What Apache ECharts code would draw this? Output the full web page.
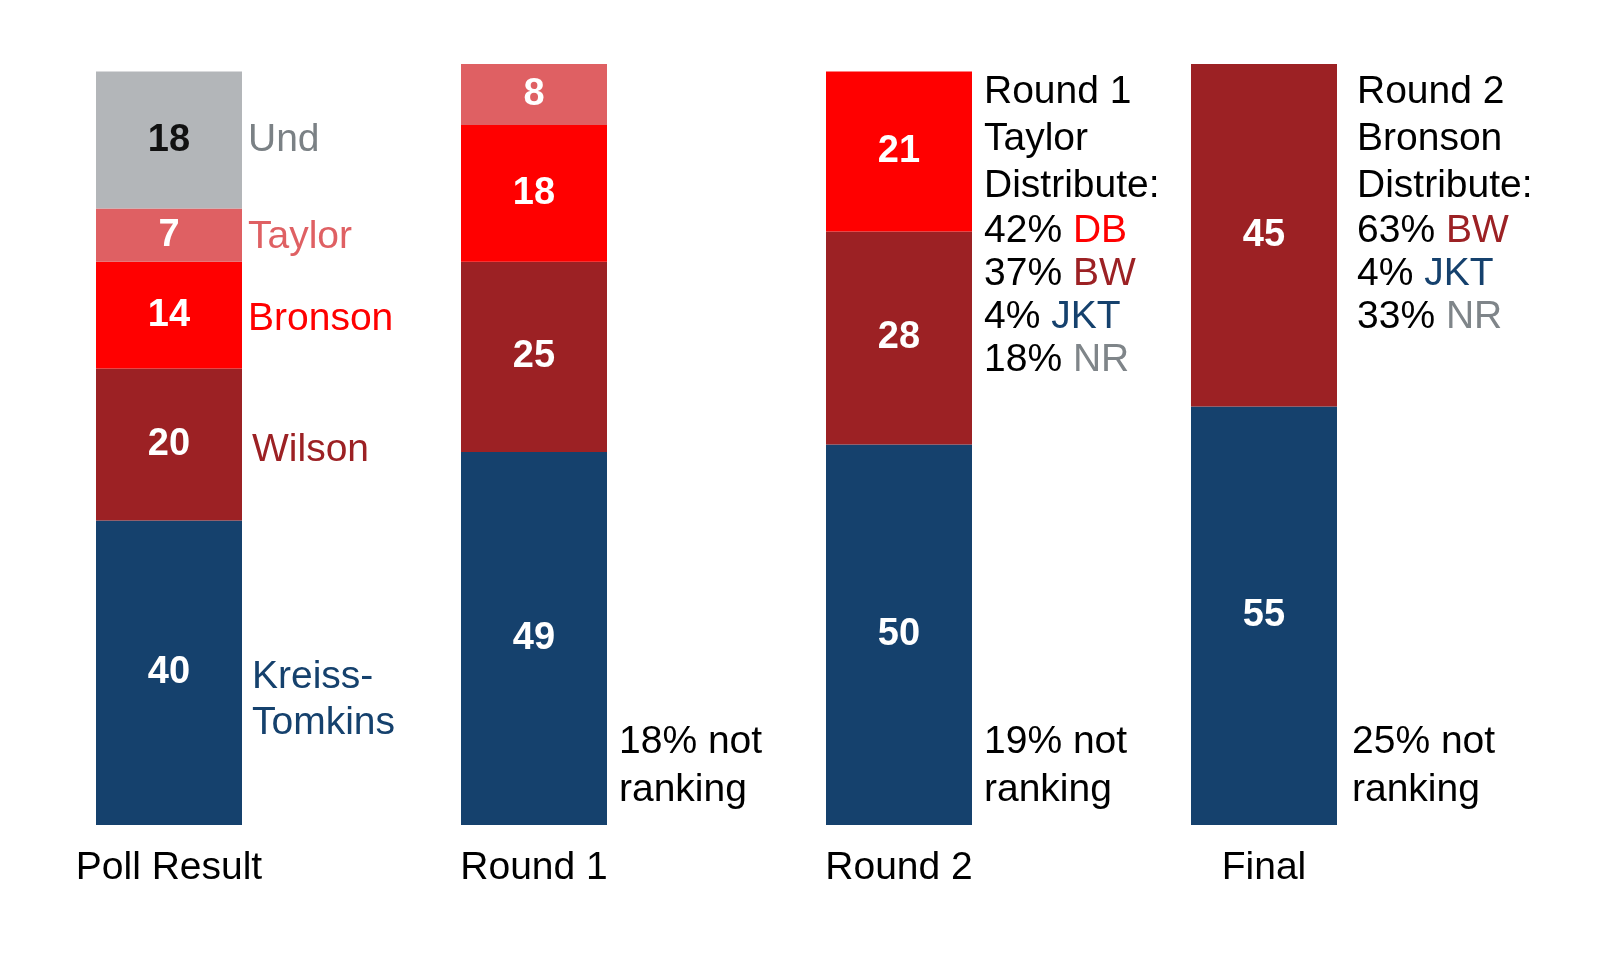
<!DOCTYPE html>
<html>
<head>
<meta charset="utf-8">
<title>Poll result and ranked-choice rounds</title>
<script src="https://cdn.jsdelivr.net/npm/echarts@6/dist/echarts.min.js"></script>
<style>
html, body { margin: 0; background: #fff; }
#main { width: 1600px; height: 955px; }
</style>
</head>
<body>
<div id="main"></div>
<script type="text/javascript">
var categories = ['Poll Result', 'Round 1', 'Round 2', 'Final'];
var kreissTomkins = [40, 49, 50, 55];
var wilson = [20, 25, 28, 45];
var bronson = [14, 18, 21, null];
var taylor = [7, 8, null, null];
var undecided = [18, null, null, null];
var notRanking = [null, 18, 19, 25];
// how the eliminated candidate's votes moved
var round1Taylor = [['42%', 'DB'], ['37%', 'BW'], ['4%', 'JKT'], ['18%', 'NR']];
var round2Bronson = [['63%', 'BW'], ['4%', 'JKT'], ['33%', 'NR']];

var FONT = '"Liberation Sans", Arial, sans-serif';
var TXT = 39;
var NAVY = '#15416d', DARKRED = '#9c2124', RED = '#ff0000', PINK = '#df6063', GREY = '#b3b6b9';

var myChart = echarts.init(document.getElementById('main'));

function dash(arr) {
    return arr.map(function (v) { return v == null ? '-' : v; });
}

// the visible stacked segments
function segment(name, data, color, textColor) {
    return {
        name: name,
        type: 'bar',
        stack: 'vote',
        barWidth: '40%',
        barGap: '-100%',
        clip: false,
        data: dash(data),
        itemStyle: { color: color },
        label: {
            show: true,
            position: 'inside',
            color: textColor || '#fff',
            fontWeight: 'bold',
            fontSize: 38,
            fontFamily: FONT
        }
    };
}

// invisible copy of the poll column, only used to put the names on the right
function nameTag(text, data, color, distance, dy) {
    return {
        name: text + ' label',
        type: 'bar',
        stack: 'names',
        barWidth: '40%',
        barGap: '-100%',
        clip: false,
        silent: true,
        data: [data[0], '-', '-', '-'],
        itemStyle: { color: 'rgba(0,0,0,0)' },
        label: {
            show: true,
            position: 'right',
            distance: distance,
            offset: [0, dy],
            formatter: text,
            color: color,
            fontSize: TXT,
            lineHeight: 46,
            fontFamily: FONT
        }
    };
}

var totals = categories.map(function (c, i) {
    return [kreissTomkins, wilson, bronson, taylor, undecided].reduce(function (s, a) {
        return s + (a[i] || 0);
    }, 0);
});

function distributeText(round, who, rows) {
    var s = '{h|' + round + '}\n{h|' + who + '}\n{h|Distribute:}';
    rows.forEach(function (r) {
        s += '\n{p|' + r[0] + ' }{' + r[1] + '|' + r[1] + '}';
    });
    return s;
}

var noteRich = {
    h: { fontSize: TXT, lineHeight: 47, color: '#000', fontFamily: FONT },
    p: { fontSize: TXT, lineHeight: 43, color: '#000', fontFamily: FONT },
    DB: { fontSize: TXT, lineHeight: 43, color: RED, fontFamily: FONT },
    BW: { fontSize: TXT, lineHeight: 43, color: DARKRED, fontFamily: FONT },
    JKT: { fontSize: TXT, lineHeight: 43, color: NAVY, fontFamily: FONT },
    NR: { fontSize: TXT, lineHeight: 43, color: '#7f8589', fontFamily: FONT }
};

var topNotes = ['-', '-',
    { value: totals[2], label: { show: true, offset: [12, -3], formatter: distributeText('Round 1', 'Taylor', round1Taylor) } },
    { value: totals[3], label: { show: true, offset: [20, 5], formatter: distributeText('Round 2', 'Bronson', round2Bronson) } }
];

var bottomNotes = notRanking.map(function (v, i) {
    if (v == null) return '-';
    return {
        value: totals[i],
        label: { show: true, offset: [i === 3 ? 15 : 12, -11], formatter: v + '% not\nranking' }
    };
});

myChart.setOption({
    animation: false,
    grid: { left: 169, width: 1095, top: 64, bottom: 130 },
    xAxis: {
        type: 'category',
        data: categories,
        boundaryGap: false,
        axisLine: { show: false },
        axisTick: { show: false },
        splitLine: { show: false },
        axisLabel: { color: '#000', fontSize: TXT, fontFamily: FONT, margin: 24 }
    },
    yAxis: { type: 'value', min: 0, max: 100, show: false },
    series: [
        segment('Kreiss-Tomkins', kreissTomkins, NAVY),
        segment('Wilson', wilson, DARKRED),
        segment('Bronson', bronson, RED),
        segment('Taylor', taylor, PINK),
        segment('Und', undecided, GREY, '#111'),

        nameTag('Kreiss-\nTomkins', kreissTomkins, NAVY, 10, 27),
        nameTag('Wilson', wilson, DARKRED, 10, 6),
        nameTag('Bronson', bronson, RED, 6, 4),
        nameTag('Taylor', taylor, PINK, 6, 2),
        nameTag('Und', undecided, '#7b8185', 6, 0),

        {
            name: 'distribute',
            type: 'bar',
            stack: 'top',
            barWidth: '40%',
            barGap: '-100%',
            clip: false,
            silent: true,
            data: topNotes,
            itemStyle: { color: 'rgba(0,0,0,0)' },
            label: {
                position: ['100%', 0],
                align: 'left',
                verticalAlign: 'top',
                rich: noteRich
            }
        },
        {
            name: 'not ranking',
            type: 'bar',
            stack: 'bottom',
            barWidth: '40%',
            barGap: '-100%',
            clip: false,
            silent: true,
            data: bottomNotes,
            itemStyle: { color: 'rgba(0,0,0,0)' },
            label: {
                position: ['100%', '100%'],
                align: 'left',
                verticalAlign: 'bottom',
                color: '#000',
                fontSize: TXT,
                lineHeight: 48,
                fontFamily: FONT
            }
        }
    ]
});
</script>
</body>
</html>
